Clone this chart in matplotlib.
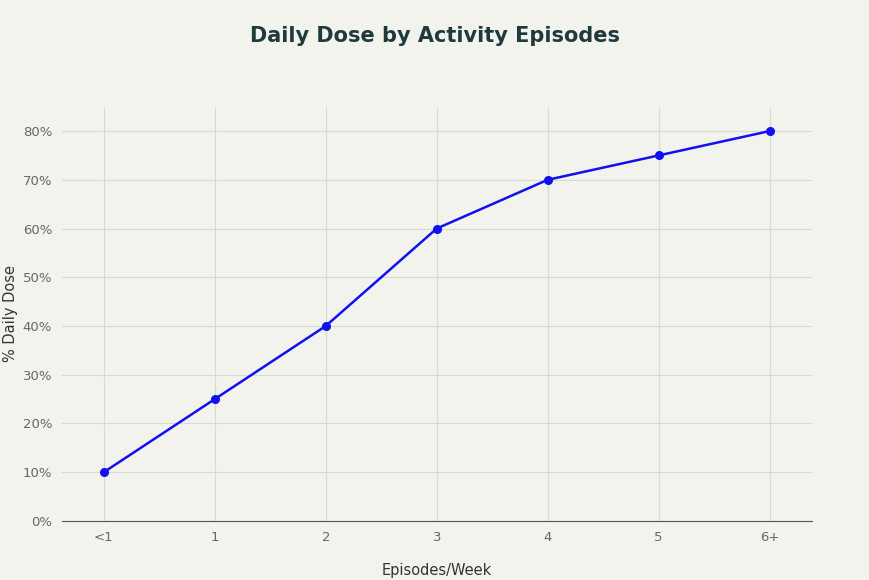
import matplotlib
matplotlib.use("Agg")
import matplotlib.pyplot as plt
from matplotlib.ticker import FuncFormatter

categories = ["<1", "1", "2", "3", "4", "5", "6+"]
values = [10, 25, 40, 60, 70, 75, 80]

bg = "#f3f3ee"
fig = plt.figure(figsize=(8.7, 5.8), dpi=100, facecolor=bg)
ax = fig.add_axes([0.071, 0.102, 0.862, 0.714], facecolor=bg)
x = range(len(categories))
ax.plot(x, values, color="#1010f0", lw=1.8, marker="o", ms=5.5, zorder=3)
ax.set_xticks(list(x))
ax.set_xticklabels(categories)
ax.set_xlim(-0.38, 6.38)
ax.set_ylim(0, 85)
ax.set_yticks(range(0, 81, 10))
ax.yaxis.set_major_formatter(FuncFormatter(lambda v, p: f"{int(v)}%"))
ax.grid(True, color="#d8d8d4", lw=0.8)
for s in ["top", "right", "left"]:
    ax.spines[s].set_visible(False)
ax.spines["bottom"].set_color("#555555")
ax.tick_params(length=0, colors="#666666", labelsize=9.5, pad=7)
ax.set_xlabel("Episodes/Week", color="#333333", fontsize=10.5, labelpad=14)
ax.set_ylabel("% Daily Dose", color="#333333", fontsize=10.5, labelpad=3)
fig.suptitle("Daily Dose by Activity Episodes", y=0.955, fontsize=15, fontweight="bold", color="#1f3a3d")
fig.savefig("out.png", facecolor=bg)
